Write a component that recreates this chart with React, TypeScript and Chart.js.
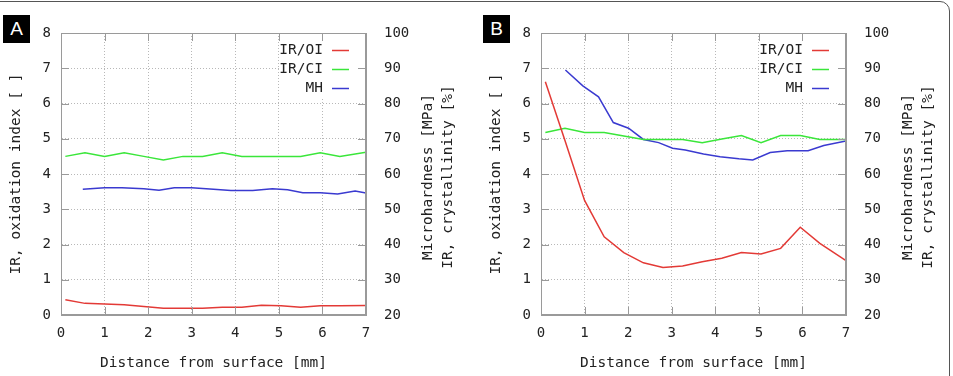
import React, { useEffect, useRef } from "react";
import { Chart, registerables } from "chart.js";

Chart.register(...registerables);

// ---- data ----
const xTickValues = [0, 1, 2, 3, 4, 5, 6, 7];
const leftTickValues = [0, 1, 2, 3, 4, 5, 6, 7, 8];
const rightTickValues = [20, 30, 40, 50, 60, 70, 80, 90, 100];

const sampleX = [0.1, 0.55, 1.0, 1.45, 1.9, 2.35, 2.8, 3.25, 3.7, 4.15, 4.6, 5.05, 5.5, 5.95, 6.4, 7.0];

// Panel A
const aOI = [0.43, 0.33, 0.31, 0.29, 0.24, 0.19, 0.19, 0.19, 0.22, 0.22, 0.28, 0.26, 0.22, 0.26, 0.26, 0.27];
const aCI = [65, 66, 65, 66, 65, 64, 65, 65, 66, 65, 65, 65, 65, 66, 65, 66.2];
const aMHx = [0.5, 1.0, 1.4, 1.9, 2.25, 2.6, 3.0, 3.5, 3.9, 4.4, 4.85, 5.2, 5.55, 5.95, 6.35, 6.75, 7.0];
const aMH = [55.7, 56.1, 56.1, 55.8, 55.4, 56.1, 56.1, 55.7, 55.3, 55.3, 55.8, 55.5, 54.7, 54.7, 54.3, 55.2, 54.6];

// Panel B
const bOI = [6.62, 4.95, 3.25, 2.22, 1.77, 1.48, 1.35, 1.39, 1.51, 1.61, 1.77, 1.73, 1.89, 2.49, 2.03, 1.54];
const bCI = [71.8, 73, 71.8, 71.8, 70.8, 69.8, 69.8, 69.8, 68.9, 69.9, 70.9, 68.9, 70.9, 70.9, 69.8, 69.8];
const bMHx = [0.56, 0.96, 1.32, 1.66, 2.01, 2.35, 2.7, 3.02, 3.31, 3.73, 4.11, 4.54, 4.86, 5.26, 5.65, 6.13, 6.49, 7.0];
const bMH = [89.5, 85.0, 81.9, 74.6, 73.0, 69.8, 68.9, 67.3, 66.8, 65.7, 64.9, 64.3, 64.0, 66.1, 66.6, 66.6, 68.1, 69.4];

const seriesNames = ["IR/OI", "IR/CI", "MH"];
const xTitle = "Distance from surface [mm]";
const leftTitle = "IR, oxidation index [ ]";
const rightTitles = ["Microhardness [MPa]", "IR, crystallinity [%]"];

// ---- styles ----
const COLORS = ["#e33a36", "#3ae63a", "#3a3ad0"];
const MONO = "'DejaVu Sans Mono', monospace";
const TEXT = "#222";
const FRAME = "#9a9a9a";
const GRID = "#b8b8b8";

type PanelProps = {
  left: number;
  letter: string;
  oi: number[];
  ci: number[];
  mhX: number[];
  mh: number[];
};

function Panel({ left, letter, oi, ci, mhX, mh }: PanelProps) {
  const ref = useRef<HTMLCanvasElement>(null);

  useEffect(() => {
    if (!ref.current) return;
    const toPts = (xs: number[], ys: number[]) => xs.map((x, i) => ({ x, y: ys[i] }));

    const decor = {
      id: "gnuplotDecor",
      afterDraw(chart: any) {
        const { ctx, chartArea: ca, scales } = chart;
        ctx.save();
        // opaque key box
        ctx.fillStyle = "#ffffff";
        ctx.fillRect(ca.right - 87, ca.top + 5, 78, 59);
        // frame
        ctx.strokeStyle = FRAME;
        ctx.lineWidth = 1;
        ctx.setLineDash([]);
        ctx.strokeRect(Math.round(ca.left) + 0.5, Math.round(ca.top) + 0.5,
          Math.round(ca.right - ca.left) - 1, Math.round(ca.bottom - ca.top) - 1);
        // inward ticks
        const TL = 8;
        ctx.beginPath();
        xTickValues.forEach((v) => {
          const p = Math.round(scales.x.getPixelForValue(v)) + 0.5;
          ctx.moveTo(p, ca.bottom); ctx.lineTo(p, ca.bottom - TL);
          ctx.moveTo(p, ca.top); ctx.lineTo(p, ca.top + TL);
        });
        leftTickValues.forEach((v) => {
          const p = Math.round(scales.y.getPixelForValue(v)) + 0.5;
          ctx.moveTo(ca.left, p); ctx.lineTo(ca.left + TL, p);
        });
        rightTickValues.forEach((v) => {
          const p = Math.round(scales.y2.getPixelForValue(v)) + 0.5;
          ctx.moveTo(ca.right, p); ctx.lineTo(ca.right - TL, p);
        });
        ctx.stroke();
        // key
        ctx.font = `14.5px ${MONO}`;
        ctx.textAlign = "right";
        ctx.textBaseline = "middle";
        chart.data.datasets.forEach((ds: any, i: number) => {
          const y = ca.top + 17 + 19 * i;
          ctx.fillStyle = TEXT;
          ctx.fillText(ds.label, ca.right - 43, y);
          ctx.strokeStyle = ds.borderColor;
          ctx.lineWidth = 1.5;
          ctx.beginPath();
          ctx.moveTo(ca.right - 34, y + 0.5);
          ctx.lineTo(ca.right - 17, y + 0.5);
          ctx.stroke();
        });
        // right axis titles (reading bottom to top)
        const cy = (ca.top + ca.bottom) / 2 + 3;
        ctx.fillStyle = TEXT;
        ctx.textAlign = "center";
        rightTitles.forEach((t, i) => {
          ctx.save();
          ctx.translate(ca.right + 62 + 20 * i, cy);
          ctx.rotate(-Math.PI / 2);
          ctx.fillText(t, 0, 0);
          ctx.restore();
        });
        ctx.restore();
      },
    };

    const tickFont = { family: MONO, size: 14 };
    const titleFont = { family: MONO, size: 14.5 };

    const chart = new Chart(ref.current, {
      type: "line",
      data: {
        datasets: [
          { label: seriesNames[0], data: toPts(sampleX, oi), yAxisID: "y", borderColor: COLORS[0] },
          { label: seriesNames[1], data: toPts(sampleX, ci), yAxisID: "y2", borderColor: COLORS[1] },
          { label: seriesNames[2], data: toPts(mhX, mh), yAxisID: "y2", borderColor: COLORS[2] },
        ],
      },
      options: {
        animation: false,
        responsive: false,
        maintainAspectRatio: false,
        events: [],
        elements: {
          line: { borderWidth: 1.5, tension: 0, fill: false },
          point: { radius: 0 },
        },
        layout: { padding: { top: 33, left: 0, right: 0, bottom: 0 } },
        plugins: { legend: { display: false }, tooltip: { enabled: false }, title: { display: false } },
        scales: {
          x: {
            type: "linear",
            min: 0,
            max: 7,
            afterFit: (s: any) => { s.height = 61; },
            afterBuildTicks: (s: any) => { s.ticks = xTickValues.map((v) => ({ value: v })); },
            ticks: { font: tickFont, color: TEXT, padding: 10, maxRotation: 0, autoSkip: false },
            grid: { color: GRID, lineWidth: 1, drawTicks: false },
            border: { display: true, color: FRAME, dash: [1, 2] },
            title: { display: true, text: xTitle, font: titleFont, color: TEXT, padding: { top: 0, bottom: 4 } },
          },
          y: {
            type: "linear",
            position: "left",
            min: 0,
            max: 8,
            afterFit: (s: any) => { s.width = 61; },
            afterBuildTicks: (s: any) => { s.ticks = leftTickValues.map((v) => ({ value: v })); },
            ticks: { font: tickFont, color: TEXT, padding: 10, autoSkip: false },
            grid: { color: GRID, lineWidth: 1, drawTicks: false },
            border: { display: true, color: FRAME, dash: [1, 2] },
            title: { display: true, text: leftTitle, font: titleFont, color: TEXT, padding: { top: 8, bottom: 0 } },
          },
          y2: {
            type: "linear",
            position: "right",
            min: 20,
            max: 100,
            afterFit: (s: any) => { s.width = 107; },
            afterBuildTicks: (s: any) => { s.ticks = rightTickValues.map((v) => ({ value: v })); },
            ticks: { font: tickFont, color: TEXT, padding: 18, autoSkip: false },
            grid: { drawOnChartArea: false, drawTicks: false },
            border: { display: true, color: FRAME },
          },
        },
      },
      plugins: [decor],
    } as any);

    return () => chart.destroy();
  }, [oi, ci, mhX, mh]);

  return (
    <div style={{ position: "absolute", left, top: 0, width: 473, height: 376 }}>
      <canvas ref={ref} width={473} height={376} style={{ width: 473, height: 376, display: "block" }} />
      <div
        style={{
          position: "absolute",
          left: 3,
          top: 15,
          width: 27,
          height: 28,
          background: "#000",
          color: "#fff",
          fontFamily: "'Liberation Sans', Arial, sans-serif",
          fontSize: 19,
          lineHeight: "27px",
          textAlign: "center",
        }}
      >
        {letter}
      </div>
    </div>
  );
}

export default function App() {
  return (
    <div style={{ position: "absolute", left: 0, top: 0, width: 953, height: 376, overflow: "hidden", background: "#fff" }}>
      <div
        style={{
          position: "absolute",
          left: -12,
          top: 1,
          width: 962,
          height: 420,
          boxSizing: "border-box",
          border: "1.5px solid #555",
          borderRadius: 10,
        }}
      />
      <Panel left={0} letter="A" oi={aOI} ci={aCI} mhX={aMHx} mh={aMH} />
      <Panel left={480} letter="B" oi={bOI} ci={bCI} mhX={bMHx} mh={bMH} />
    </div>
  );
}
